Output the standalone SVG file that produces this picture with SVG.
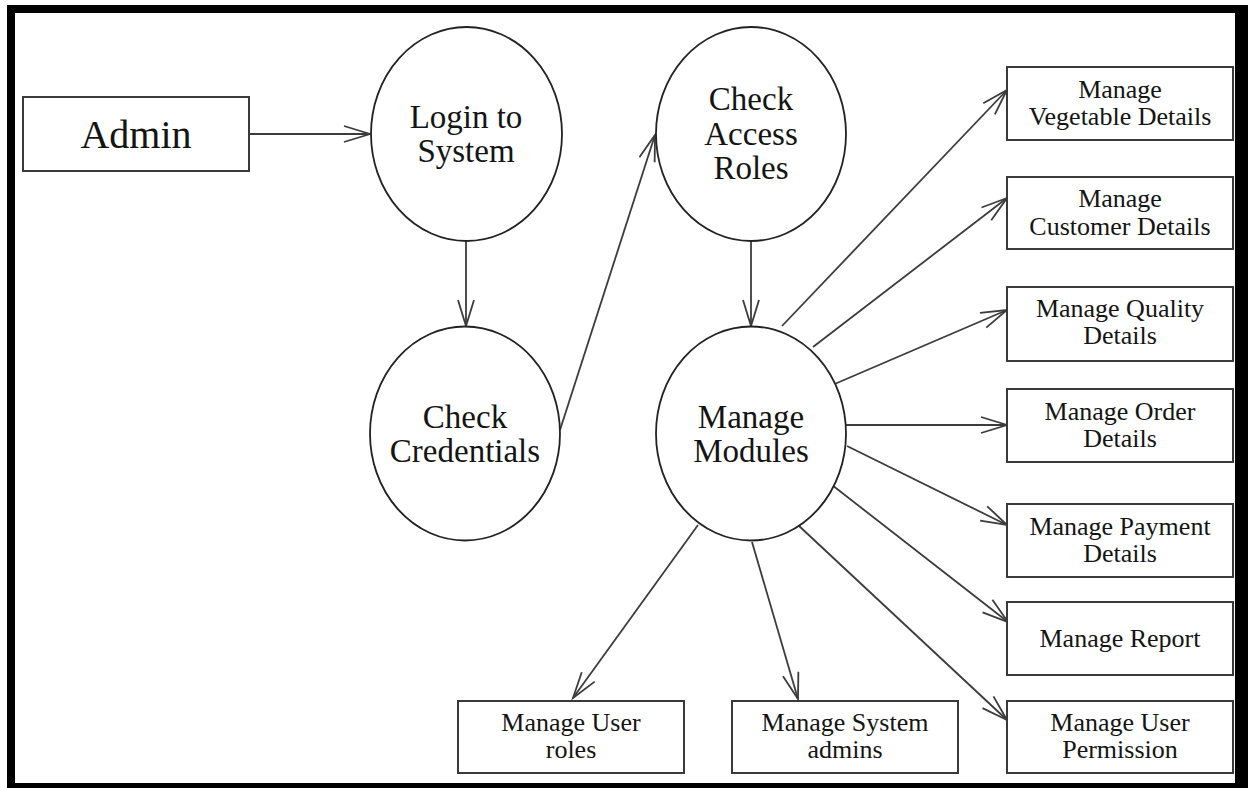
<svg xmlns="http://www.w3.org/2000/svg" width="1248" height="788" viewBox="0 0 1248 788">
<defs>
<style>
.box{fill:#fff;stroke:#3a3a3a;stroke-width:2}
.ell{fill:#fff;stroke:#222;stroke-width:1.8}
.t{font-family:"Liberation Serif","Times New Roman",serif;fill:#141414;text-anchor:middle}
.big{font-size:40px}
.mid{font-size:33px}
.sm{font-size:26px}
.c{fill:none;stroke:#3c3c3c;stroke-width:1.8;marker-end:url(#a)}
</style>
<marker id="a" markerUnits="userSpaceOnUse" markerWidth="30" markerHeight="20" viewBox="0 0 30 20" refX="27" refY="9" orient="auto">
<path d="M1,1 L27,9 L1,17" fill="none" stroke="#3c3c3c" stroke-width="1.8"/>
</marker>
</defs>
<rect x="0" y="0" width="1248" height="788" fill="#fff"/>
<rect x="7" y="5" width="1241" height="783" fill="#000"/>
<rect x="15" y="13" width="1220" height="770" fill="#fff"/>

<g id="connectors">
<line class="c" x1="249" y1="134" x2="370" y2="134"/>
<line class="c" x1="466" y1="241" x2="466" y2="326"/>
<line class="c" x1="560" y1="430" x2="655" y2="135"/>
<line class="c" x1="751" y1="241" x2="751" y2="326"/>
<line class="c" x1="782" y1="326" x2="1007" y2="90"/>
<line class="c" x1="813" y1="347" x2="1007" y2="198"/>
<line class="c" x1="830" y1="386" x2="1007" y2="310"/>
<line class="c" x1="846" y1="425" x2="1007" y2="425"/>
<line class="c" x1="847" y1="446" x2="1007" y2="525"/>
<line class="c" x1="832" y1="485" x2="1008" y2="622"/>
<line class="c" x1="798" y1="525" x2="1007" y2="720"/>
<line class="c" x1="752" y1="542" x2="798" y2="699"/>
<line class="c" x1="698" y1="525" x2="573" y2="698"/>
</g>

<g id="admin">
<rect class="box" x="23" y="97" width="226" height="74"/>
<text class="t big" x="136" y="148">Admin</text>
</g>

<g id="login">
<ellipse class="ell" cx="466.5" cy="134" rx="95.5" ry="107"/>
<text class="t mid" x="466" y="128">Login to</text>
<text class="t mid" x="466" y="162">System</text>
</g>

<g id="check-access">
<ellipse class="ell" cx="751" cy="134" rx="95" ry="107"/>
<text class="t mid" x="751" y="110">Check</text>
<text class="t mid" x="751" y="145">Access</text>
<text class="t mid" x="751" y="179">Roles</text>
</g>

<g id="check-credentials">
<ellipse class="ell" cx="465" cy="433.5" rx="95" ry="107"/>
<text class="t mid" x="465" y="428">Check</text>
<text class="t mid" x="465" y="462">Credentials</text>
</g>

<g id="manage-modules">
<ellipse class="ell" cx="751" cy="433.5" rx="95" ry="107"/>
<text class="t mid" x="751" y="428">Manage</text>
<text class="t mid" x="751" y="462">Modules</text>
</g>

<g id="vegetable">
<rect class="box" x="1007" y="67" width="226" height="73"/>
<text class="t sm" x="1120" y="98">Manage</text>
<text class="t sm" x="1120" y="125">Vegetable Details</text>
</g>

<g id="customer">
<rect class="box" x="1007" y="177" width="226" height="72"/>
<text class="t sm" x="1120" y="207">Manage</text>
<text class="t sm" x="1120" y="235">Customer Details</text>
</g>

<g id="quality">
<rect class="box" x="1007" y="287" width="226" height="74"/>
<text class="t sm" x="1120" y="317">Manage Quality</text>
<text class="t sm" x="1120" y="344">Details</text>
</g>

<g id="order">
<rect class="box" x="1007" y="389" width="226" height="73"/>
<text class="t sm" x="1120" y="420">Manage Order</text>
<text class="t sm" x="1120" y="447">Details</text>
</g>

<g id="payment">
<rect class="box" x="1007" y="504" width="226" height="73"/>
<text class="t sm" x="1120" y="535">Manage Payment</text>
<text class="t sm" x="1120" y="562">Details</text>
</g>

<g id="report">
<rect class="box" x="1007" y="602" width="226" height="73"/>
<text class="t sm" x="1120" y="647">Manage Report</text>
</g>

<g id="user-permission">
<rect class="box" x="1007" y="701" width="226" height="72"/>
<text class="t sm" x="1120" y="731">Manage User</text>
<text class="t sm" x="1120" y="758">Permission</text>
</g>

<g id="system-admins">
<rect class="box" x="732" y="701" width="226" height="72"/>
<text class="t sm" x="845" y="731">Manage System</text>
<text class="t sm" x="845" y="758">admins</text>
</g>

<g id="user-roles">
<rect class="box" x="458" y="701" width="226" height="72"/>
<text class="t sm" x="571" y="731">Manage User</text>
<text class="t sm" x="571" y="758">roles</text>
</g>
</svg>
